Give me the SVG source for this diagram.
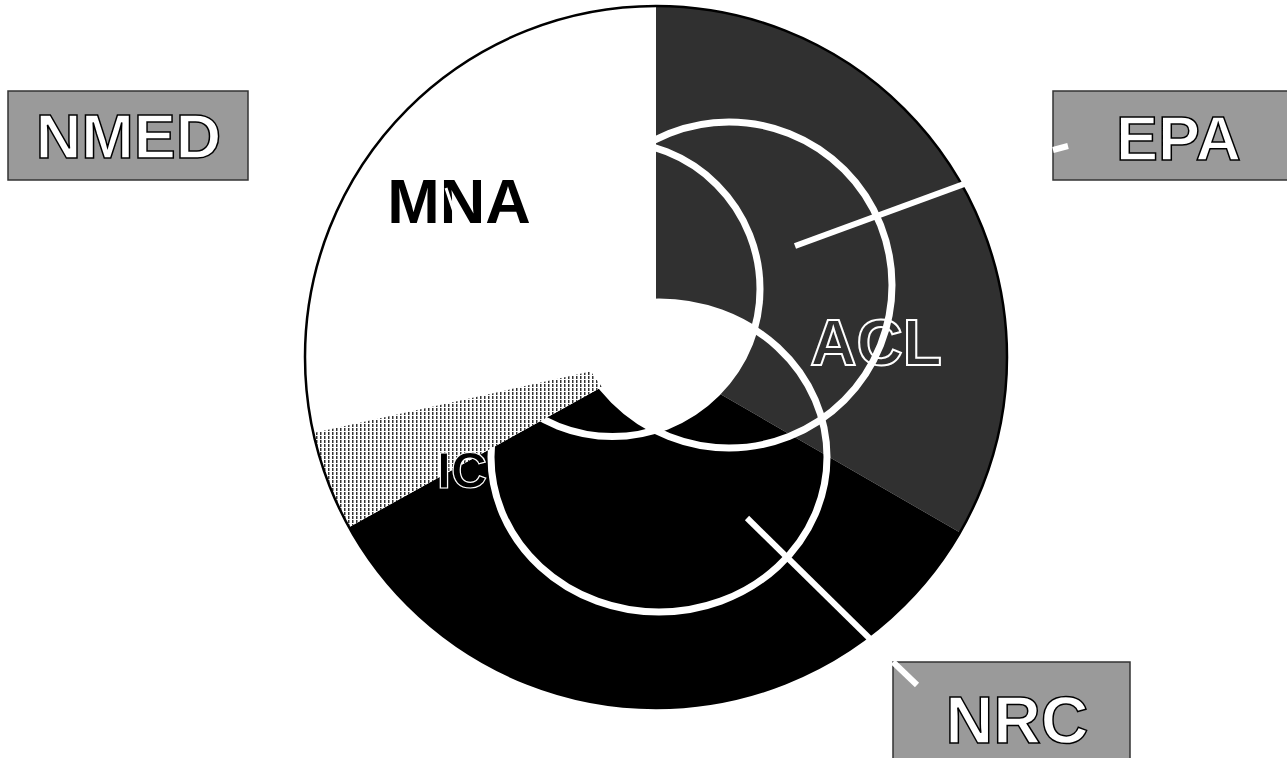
<svg xmlns="http://www.w3.org/2000/svg" width="1287" height="758" viewBox="0 0 1287 758">
<defs>
<style>
.box{fill:#9a9a9a;stroke:#333;stroke-width:1.5}
.boxlbl{font-family:"Liberation Sans",Arial,sans-serif;font-weight:bold;fill:#fff;stroke:#000;stroke-width:1.5;text-anchor:middle}
.seglbl{font-family:"Liberation Sans",Arial,sans-serif;font-weight:bold;text-anchor:middle}
.ring{fill:none;stroke:#fff;stroke-width:7}
.lead{stroke:#fff;stroke-width:6;stroke-linecap:butt}
</style>
<pattern id="hatch" width="4" height="4" patternUnits="userSpaceOnUse"><rect width="4" height="4" fill="#fff"/><rect width="1.5" height="3" fill="#333"/></pattern>
<clipPath id="cA"><circle cx="729" cy="285" r="163"/></clipPath>
<clipPath id="cP"><circle cx="612.5" cy="289" r="147.5"/></clipPath>
<path id="hatchSeg" d="M656,357 L349,527.2 A351,351 0 0 1 313.3,433 Z"/>
</defs>
<rect width="1287" height="758" fill="#fff"/>
<g id="pie">
<circle cx="656" cy="357" r="351" fill="#fff"/>
<path d="M656,357 L656,6 A351,351 0 0 1 960,532.5 Z" fill="#303030"/>
<path d="M656,357 L960,532.5 A351,351 0 0 1 349,527.2 Z" fill="#000"/>
</g>
<g id="acl"><text class="seglbl" x="876" y="365" font-size="64" fill="#303030" stroke="#fff" stroke-width="2">ACL</text></g>
<g id="rings">
<circle class="ring" cx="729" cy="285" r="163"/>
<circle class="ring" cx="612.5" cy="289" r="147.5"/>
<ellipse class="ring" cx="659" cy="457" rx="168" ry="155"/>
</g>
<use href="#hatchSeg" fill="url(#hatch)"/>
<g id="center" clip-path="url(#cA)"><g clip-path="url(#cP)"><ellipse cx="659" cy="457" rx="168" ry="155" fill="#fff"/></g></g>
<g id="ic"><text class="seglbl" x="462" y="488" font-size="50" fill="#000" stroke="#fff" stroke-width="1.2">IC</text></g>
<circle cx="656" cy="357" r="351" fill="none" stroke="#000" stroke-width="2.5"/>
<g id="connectors">
<line class="lead" x1="795" y1="246" x2="1068" y2="146"/>
<line class="lead" x1="747" y1="518" x2="917" y2="685"/>
</g>
<g id="mna">
<text class="seglbl" x="459" y="223" font-size="63" fill="#000">MNA</text>
<line x1="446" y1="188" x2="457" y2="221" stroke="#fff" stroke-width="3"/>
</g>
<g id="nmed">
<rect class="box" x="8" y="91" width="240" height="89"/>
<text class="boxlbl" x="128.5" y="158" font-size="63">NMED</text>
</g>
<g id="epa">
<rect class="box" x="1053" y="91" width="240" height="89"/>
<line class="lead" x1="1053" y1="150" x2="1068" y2="146"/>
<text class="boxlbl" x="1178.5" y="160" font-size="63">EPA</text>
</g>
<g id="nrc">
<rect class="box" x="893" y="662" width="237" height="100"/>
<line class="lead" x1="893" y1="662" x2="917" y2="685"/>
<text class="boxlbl" x="1017" y="743" font-size="66">NRC</text>
</g>
</svg>
